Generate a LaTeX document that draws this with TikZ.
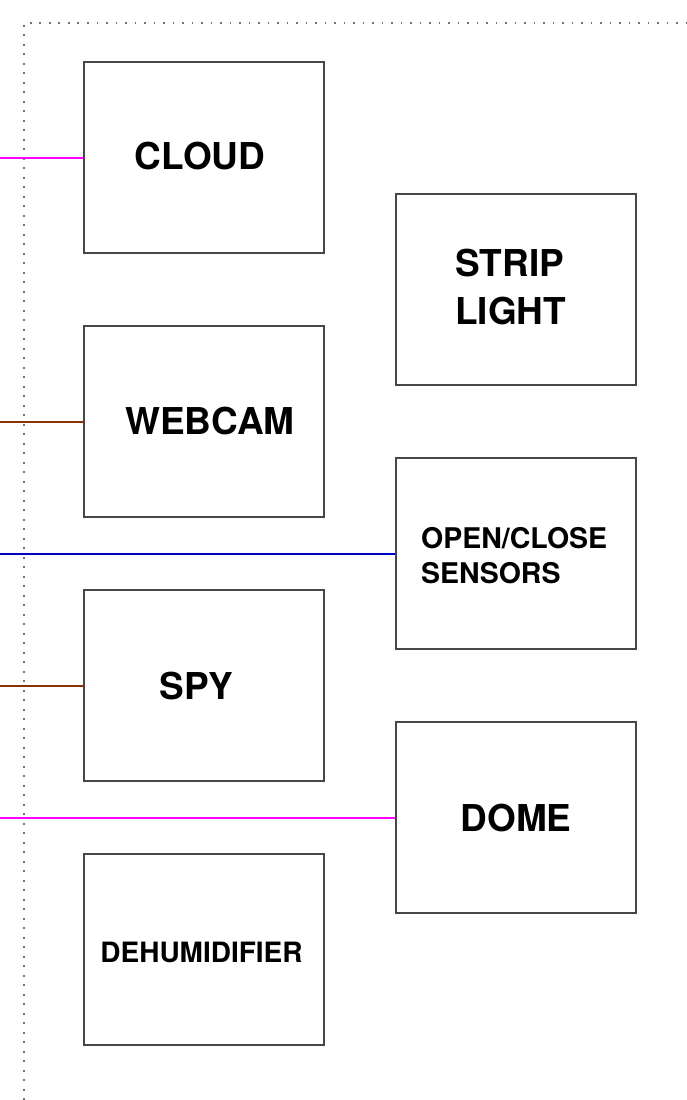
\documentclass[tikz,border=0pt]{standalone}
\usepackage{fontspec}
\setmainfont{TeX Gyre Heros}
\definecolor{wmag}{RGB}{255,0,255}
\definecolor{wbrown}{RGB}{140,50,0}
\definecolor{wblue}{RGB}{0,0,204}
\begin{document}
\begin{tikzpicture}[x=1pt,y=-1pt,
  devbox/.style={draw=black!72, line width=1.3pt, minimum width=240pt, minimum height=191pt, inner sep=0pt},
  big/.style={inner sep=0pt, font=\fontsize{37}{48}\selectfont\bfseries},
  small/.style={inner sep=0pt, font=\fontsize{28.5}{35}\selectfont\bfseries, align=left},
  frameline/.style={draw=black!55, line width=1.8pt, dash pattern=on 1.8pt off 7.7pt},
  linkmag/.style={draw=wmag, fill=wmag, line width=1.8pt},
  linkbrown/.style={draw=wbrown, fill=wbrown, line width=1.8pt},
  linkblue/.style={draw=wblue, fill=wblue, line width=1.8pt}]
\useasboundingbox (0,0) rectangle (687,1100);
% dotted frame
\coordinate (fa) at (24,1100);
\coordinate (fb) at (24,23);
\coordinate (fc) at (687,23);
\draw[frameline] (fa) -- (fb) -- (fc);
% boxes
\node[devbox] (cloud) at (204,157.5) {};
\node[devbox] (webcam) at (204,421.5) {};
\node[devbox] (spy) at (204,685.5) {};
\node[devbox] (dehum) at (204,949.5) {};
\node[devbox] (strip) at (516,289.5) {};
\node[devbox] (sensors) at (516,553.5) {};
\node[devbox] (dome) at (516,817.5) {};
% connector free ends
\coordinate (w1) at (0,157.5);
\coordinate (w2) at (0,421.5);
\coordinate (w3) at (0,553.5);
\coordinate (w4) at (0,685.5);
\coordinate (w5) at (0,817.5);
% connectors
\draw[linkmag] (w1) -- (cloud.west);
\draw[linkbrown] (w2) -- (webcam.west);
\draw[linkblue] (w3) -- (sensors.west);
\draw[linkbrown] (w4) -- (spy.west);
\draw[linkmag] (w5) -- (dome.west);
\fill[wmag] ([yshift=1pt]w1) rectangle ([yshift=-1pt]cloud.west);
\fill[wbrown] ([yshift=1pt]w2) rectangle ([yshift=-1pt]webcam.west);
\fill[wblue] ([yshift=1pt]w3) rectangle ([yshift=-1pt]sensors.west);
\fill[wbrown] ([yshift=1pt]w4) rectangle ([yshift=-1pt]spy.west);
\fill[wmag] ([yshift=1pt]w5) rectangle ([yshift=-1pt]dome.west);
% texts
\node[big, anchor=base] (cloudT) at (200,169) {CLOUD};
\node[big, anchor=base] (webcamT) at (210,434) {WEBCAM};
\node[big, anchor=base] (spyT) at (196.5,699) {SPY};
\node[small, anchor=base, font=\fontsize{28}{35}\selectfont\bfseries] (dehumT) at (201.5,962) {DEHUMIDIFIER};
\node[big, anchor=base west, align=left] (stripT) at (455,324) {STRIP\\LIGHT};
\node[small, anchor=base west] (sensorsT) at (421,583) {OPEN/CLOSE\\SENSORS};
\node[big, anchor=base] (domeT) at (516,831) {DOME};
\end{tikzpicture}
\end{document}
